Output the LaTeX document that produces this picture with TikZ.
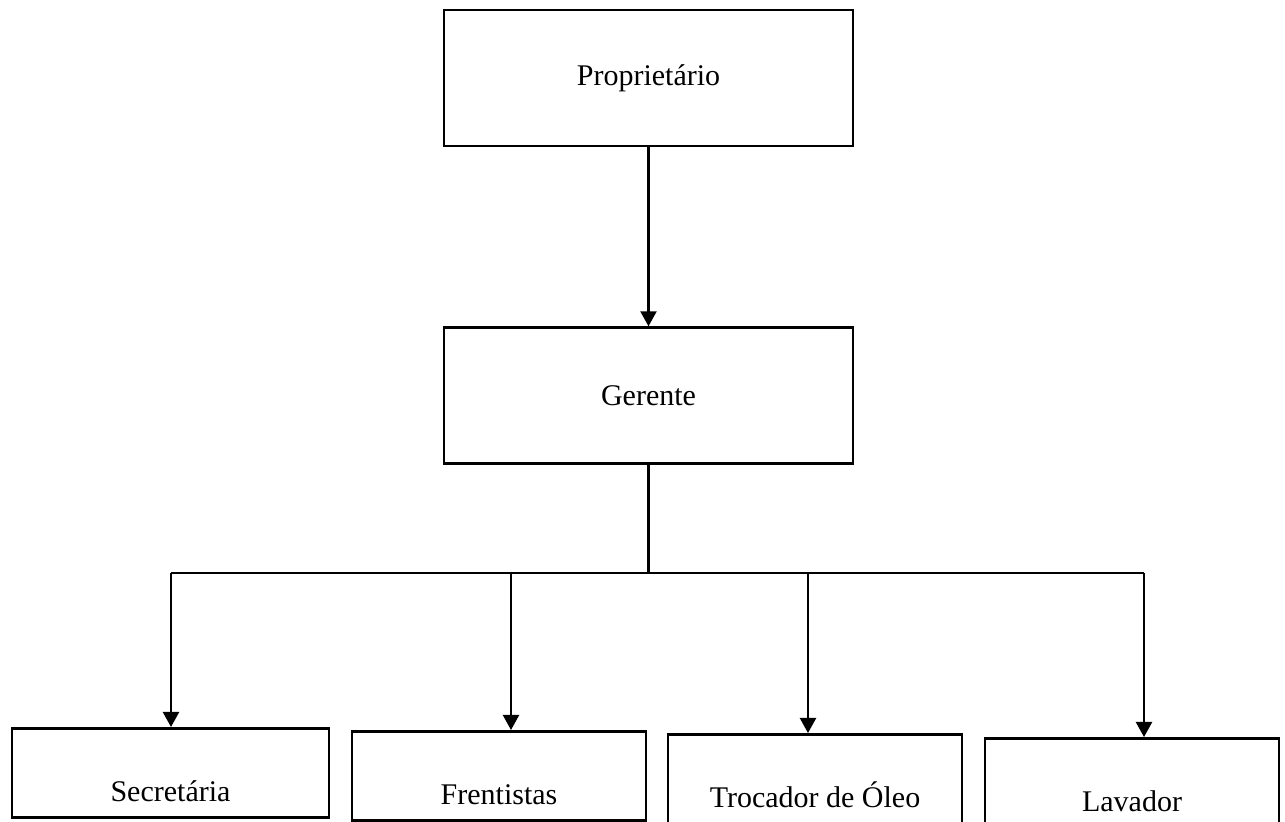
\documentclass[tikz,border=0pt]{standalone}
\usepackage{fontspec}
\setmainfont{Liberation Serif}
\usepackage{tikz}
\usetikzlibrary{arrows.meta,positioning}

\begin{document}
\begin{tikzpicture}[x=0.5pt,y=-0.5pt,
	every node/.style={font=\fontsize{15}{18}\selectfont},
	chief/.style={rectangle,draw,line width=1.3pt,inner sep=0pt,minimum width=204.5pt,minimum height=68pt},
	unit/.style={rectangle,draw,line width=1.3pt,inner sep=0pt,minimum width=147pt,text height=36.5pt,text depth=8pt,anchor=north},
	line/.style={line width=1.1pt},
	paths/.style={-{Triangle[length=7.5pt,width=8pt]}, line width=1.1pt}
	]
\useasboundingbox (0,0) rectangle (1285,822);

\node[chief](prop) at (648.5,78) {Propriet\'ario};
\node[chief](ger) [below = 89.5pt of prop] {Gerente};

\node[unit,minimum width=158.5pt](sec) at (170.5,727) {Secret\'aria};
\node[unit](fren) at (499,730) {Frentistas};
\node[unit](troc) at (815,733) {Trocador de \'Oleo};
\node[unit,text depth=10pt](lav) at (1132,737) {Lavador};

\coordinate (bus) at (648.5,573);
\coordinate (s1) at (171,573);
\coordinate (s2) at (511,573);
\coordinate (s3) at (808,573);
\coordinate (s4) at (1144,573);

\draw[paths](prop.south) -- (ger.north);
\draw[line](ger.south) -- (ger.south |- bus);
\draw[line](s1) -- (s4);

\draw[paths](s1) -- (s1 |- sec.north);
\draw[paths](s2) -- (s2 |- fren.north);
\draw[paths](s3) -- (s3 |- troc.north);
\draw[paths](s4) -- (s4 |- lav.north);
\end{tikzpicture}
\end{document}
